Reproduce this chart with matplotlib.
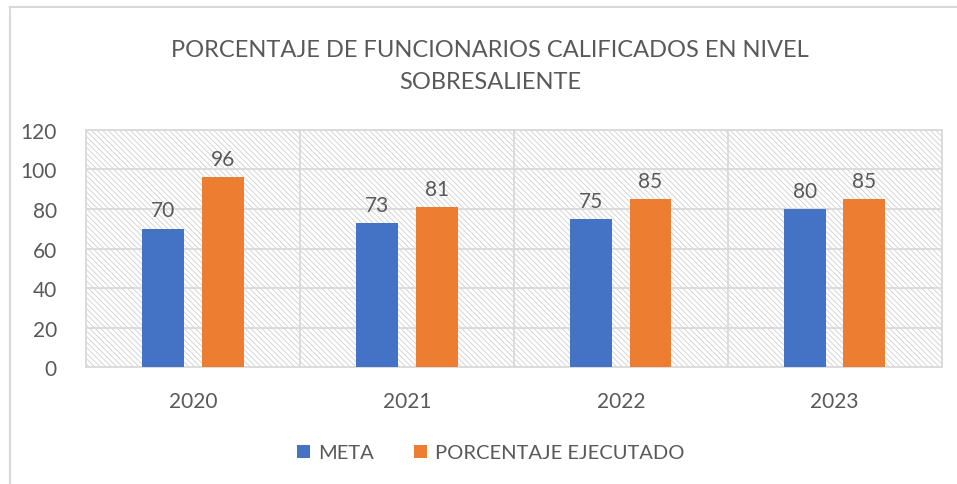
import matplotlib
matplotlib.use("Agg")
import matplotlib.pyplot as plt
import numpy as np
from matplotlib.patches import Rectangle
from matplotlib.lines import Line2D
from matplotlib import font_manager

years = ["2020", "2021", "2022", "2023"]
meta = [70, 73, 75, 80]
ejecutado = [96, 81, 85, 85]
series_names = ["META", "PORCENTAJE EJECUTADO"]
title = "PORCENTAJE DE FUNCIONARIOS CALIFICADOS EN NIVEL\nSOBRESALIENTE"

names = {f.name for f in font_manager.fontManager.ttflist}
body_font = "Lato" if "Lato" in names else "DejaVu Sans"
title_font = body_font

plt.rcParams["hatch.linewidth"] = 0.6

TXT = "#595959"
GRID = "#d9d9d9"
HATCH = "#cfcfcf"
BLUE = "#4472c4"
ORANGE = "#ed7d31"

fig = plt.figure(figsize=(9.57, 4.85), dpi=100)
ax = fig.add_axes([0.0899, 0.241, 0.894, 0.489])

x = np.arange(len(years))
w = 0.196
off = 0.139
b1 = ax.bar(x - off, meta, w, color=BLUE, zorder=3, label=series_names[0])
b2 = ax.bar(x + off, ejecutado, w, color=ORANGE, zorder=3, label=series_names[1])

for bars in (b1, b2):
    ax.bar_label(bars, padding=6, fontsize=15, color=TXT, family=body_font)

ax.set_xlim(-0.5, len(years) - 0.5)
ax.set_ylim(0, 120)
ax.set_yticks(range(0, 121, 20))
ax.set_xticks(x)
ax.set_xticklabels(years)

# hatched background
ax.add_patch(Rectangle((0, 0), 1, 1, transform=ax.transAxes, facecolor="white",
                       edgecolor=HATCH, hatch="\\" * 6, lw=0, zorder=0))

# gridlines
for yv in range(20, 121, 20):
    ax.axhline(yv, color=GRID, lw=1.3, zorder=1)
for xv in np.arange(0.5, len(years) - 0.5, 1):
    ax.axvline(xv, color=GRID, lw=1.3, zorder=1)

for s in ax.spines.values():
    s.set_color(GRID)
    s.set_linewidth(1.3)
    s.set_zorder(2)

ax.tick_params(axis="both", length=0, labelsize=15, labelcolor=TXT)
ax.tick_params(axis="x", pad=17)
ax.tick_params(axis="y", pad=21)
for lbl in ax.get_xticklabels() + ax.get_yticklabels():
    lbl.set_family(body_font)

fig.text(0.512, 0.863, title, ha="center", va="center", fontsize=17,
         color=TXT, family=title_font, linespacing=1.65)

leg = fig.legend(handles=[b1, b2], loc="center", bbox_to_anchor=(0.513, 0.064),
                 ncol=2, frameon=False, handlelength=0.65,
                 handleheight=0.65, columnspacing=2.0, handletextpad=0.4,
                 prop={"family": body_font, "size": 14.5})
for t in leg.get_texts():
    t.set_color(TXT)

# outer chart border (left and top visible)
fig.add_artist(Line2D([10 / 957, 10 / 957], [0, 1 - 8 / 485], transform=fig.transFigure,
                      color=GRID, lw=1.5))
fig.add_artist(Line2D([10 / 957, 1], [1 - 8 / 485, 1 - 8 / 485], transform=fig.transFigure,
                      color=GRID, lw=1.5))

fig.savefig("out.png", dpi=100, facecolor="white")
